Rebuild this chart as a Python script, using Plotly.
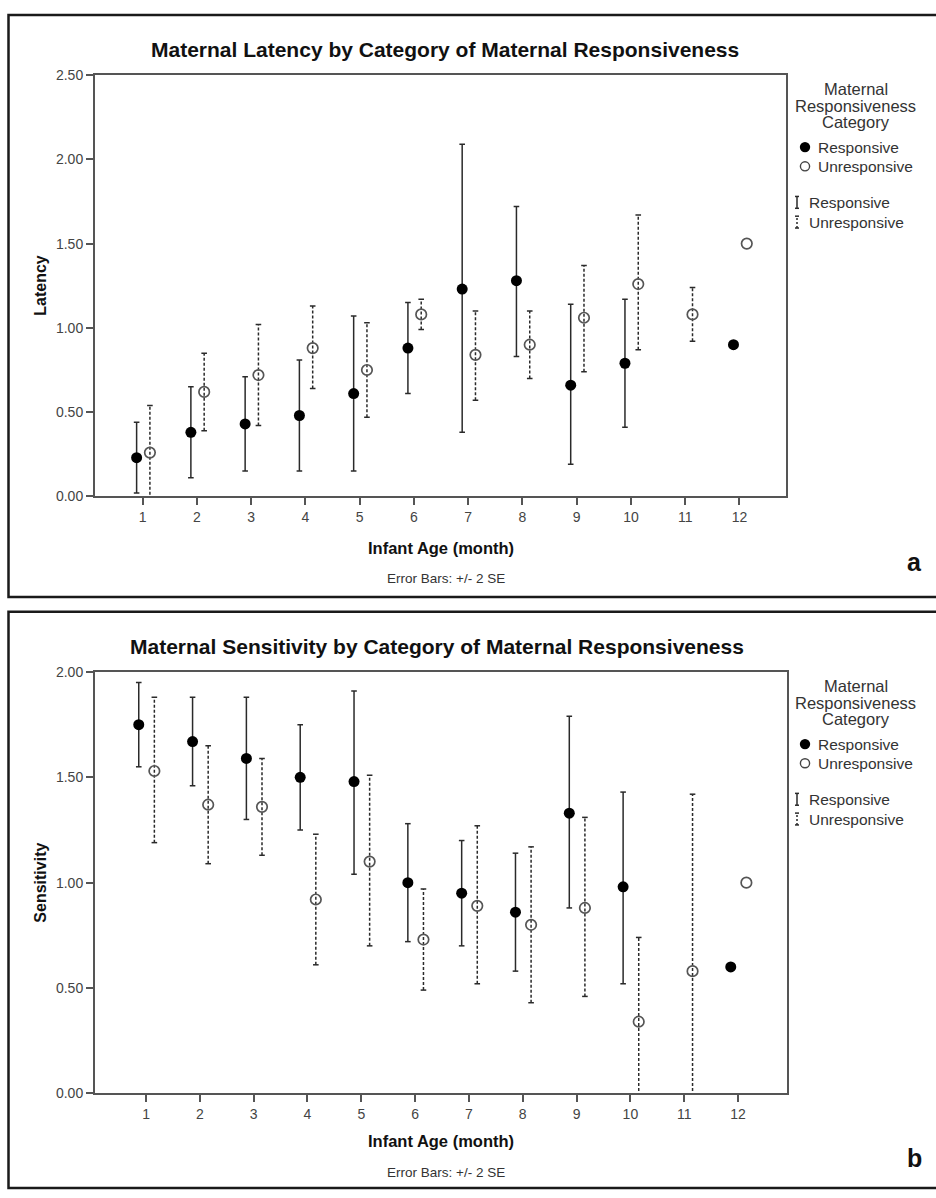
import plotly.graph_objects as go

W, H = 936, 1198

# ---- data: infant age in months, group means and +/- 2 SE bounds ----
months = [1, 2, 3, 4, 5, 6, 7, 8, 9, 10, 11, 12]

lat_resp_mean = [0.23, 0.38, 0.43, 0.48, 0.61, 0.88, 1.23, 1.28, 0.66, 0.79, None, 0.90]
lat_resp_lo = [0.02, 0.11, 0.15, 0.15, 0.15, 0.61, 0.38, 0.83, 0.19, 0.41, None, None]
lat_resp_hi = [0.44, 0.65, 0.71, 0.81, 1.07, 1.15, 2.09, 1.72, 1.14, 1.17, None, None]
lat_unr_mean = [0.26, 0.62, 0.72, 0.88, 0.75, 1.08, 0.84, 0.90, 1.06, 1.26, 1.08, 1.50]
lat_unr_lo = [-0.02, 0.39, 0.42, 0.64, 0.47, 0.99, 0.57, 0.70, 0.74, 0.87, 0.92, None]
lat_unr_hi = [0.54, 0.85, 1.02, 1.13, 1.03, 1.17, 1.10, 1.10, 1.37, 1.67, 1.24, None]

sens_resp_mean = [1.75, 1.67, 1.59, 1.50, 1.48, 1.00, 0.95, 0.86, 1.33, 0.98, None, 0.60]
sens_resp_lo = [1.55, 1.46, 1.30, 1.25, 1.04, 0.72, 0.70, 0.58, 0.88, 0.52, None, None]
sens_resp_hi = [1.95, 1.88, 1.88, 1.75, 1.91, 1.28, 1.20, 1.14, 1.79, 1.43, None, None]
sens_unr_mean = [1.53, 1.37, 1.36, 0.92, 1.10, 0.73, 0.89, 0.80, 0.88, 0.34, 0.58, 1.00]
sens_unr_lo = [1.19, 1.09, 1.13, 0.61, 0.70, 0.49, 0.52, 0.43, 0.46, -0.06, -0.25, None]
sens_unr_hi = [1.88, 1.65, 1.59, 1.23, 1.51, 0.97, 1.27, 1.17, 1.31, 0.74, 1.42, None]

lat_ticks = [0.0, 0.5, 1.0, 1.5, 2.0, 2.5]
sens_ticks = [0.0, 0.5, 1.0, 1.5, 2.0]

FONT = "Liberation Sans, Arial, sans-serif"
AXC = "#555555"
TXT = "#444444"
BAR = "#2a2a2a"


def px(x):
    return x / W


def py(y):
    return 1 - y / H


fig = go.Figure()


def add_group(xa, ya, mean, lo, hi, shift, dashed):
    xs = [m + shift for m in months]
    bx, by, cx, cy = [], [], [], []
    for x, l, h in zip(xs, lo, hi):
        if l is None or h is None:
            continue
        bx += [x, x, None]
        by += [l, h, None]
        cx += [x, x]
        cy += [l, h]
    dash = "3px,2px" if dashed else "solid"
    fig.add_trace(go.Scatter(x=bx, y=by, mode="lines", xaxis=xa, yaxis=ya,
                             line=dict(color=BAR, width=1.5, dash=dash),
                             hoverinfo="skip", showlegend=False))
    fig.add_trace(go.Scatter(x=cx, y=cy, mode="markers", xaxis=xa, yaxis=ya,
                             marker=dict(symbol="line-ew", size=4,
                                         line=dict(color=BAR, width=1.5)),
                             hoverinfo="skip", showlegend=False))
    mx = [x for x, m in zip(xs, mean) if m is not None]
    my = [m for m in mean if m is not None]
    if dashed:
        mk = dict(symbol="circle-open", size=10.5, color="#555555",
                  line=dict(color="#555555", width=1.7))
    else:
        mk = dict(symbol="circle", size=11, color="#000000", line=dict(width=0))
    fig.add_trace(go.Scatter(x=mx, y=my, mode="markers", xaxis=xa, yaxis=ya,
                             marker=mk, showlegend=False))


# panel a: latency
add_group("x", "y", lat_resp_mean, lat_resp_lo, lat_resp_hi, -0.11, False)
add_group("x", "y", lat_unr_mean, lat_unr_lo, lat_unr_hi, 0.135, True)
# panel b: sensitivity
add_group("x2", "y2", sens_resp_mean, sens_resp_lo, sens_resp_hi, -0.135, False)
add_group("x2", "y2", sens_unr_mean, sens_unr_lo, sens_unr_hi, 0.155, True)

axis_common = dict(showgrid=False, zeroline=False, showline=True, mirror=True,
                   linecolor=AXC, linewidth=2, ticks="outside", tickcolor=AXC,
                   tickwidth=1.5, ticklen=7, tickfont=dict(family=FONT, size=14, color=TXT))

fig.update_layout(
    width=W, height=H, margin=dict(l=0, r=0, t=0, b=0),
    paper_bgcolor="white", plot_bgcolor="white", showlegend=False,
    xaxis=dict(axis_common, domain=[px(95), px(786)], range=[0.123, 12.858],
               tickvals=months, anchor="y"),
    yaxis=dict(axis_common, domain=[py(495), py(68)], range=[0, 2.5],
               tickvals=lat_ticks, ticktext=[f"{v:.2f}" for v in lat_ticks], anchor="x"),
    xaxis2=dict(axis_common, domain=[px(95), px(787)], range=[0.052, 12.91],
                tickvals=months, anchor="y2"),
    yaxis2=dict(axis_common, domain=[py(1100), py(673)], range=[0, 2.0],
                tickvals=sens_ticks, ticktext=[f"{v:.2f}" for v in sens_ticks], anchor="x2"),
)

ann = []
shapes = []


def text(x, y, s, size, bold=False, color="#000000", xanchor="center", angle=0):
    ann.append(dict(x=px(x), y=py(y), xref="paper", yref="paper", text=(f"<b>{s}</b>" if bold else s),
                    showarrow=False, xanchor=xanchor, yanchor="middle", textangle=angle,
                    font=dict(family=FONT, size=size, color=color)))


# panel frames
for top, bottom in [(7, 597), (612, 1196)]:
    shapes.append(dict(type="rect", xref="paper", yref="paper", x0=px(8.5), x1=px(948),
                       y0=py(bottom), y1=py(top), line=dict(color="#1a1a1a", width=2.5)))

panels = [
    dict(title="Maternal Latency by Category of Maternal Responsiveness", tx=445, ty=42,
         ylab="Latency", ptop=68, pbot=495, letter="a", ly=562, xlab_y=547, eb_y=578),
    dict(title="Maternal Sensitivity by Category of Maternal Responsiveness", tx=436.5, ty=647,
         ylab="Sensitivity", ptop=673, pbot=1100, letter="b", ly=1166, xlab_y=1148, eb_y=1180),
]

for p in panels:
    text(p["tx"], p["ty"], p["title"], 21, bold=True, color="#111111")
    text(41, (p["ptop"] + p["pbot"]) / 2, p["ylab"], 16, bold=True, color="#111111", angle=-90)
    text(440.5, p["xlab_y"], "Infant Age (month)", 16.5, bold=True, color="#111111")
    text(446, p["eb_y"], "Error Bars: +/- 2 SE", 13.5, color="#333333")
    text(914, p["ly"], p["letter"], 25, bold=True, color="#111111")

    t = p["ptop"]
    # legend block
    text(855.5, t + 14.5, "Maternal", 16.5, color="#333333")
    text(855.5, t + 31, "Responsiveness", 16.5, color="#333333")
    text(855.5, t + 47.5, "Category", 16.5, color="#333333")
    text(816, t + 73.5, "Responsive", 15.5, color="#333333", xanchor="left")
    text(816, t + 93, "Unresponsive", 15.5, color="#333333", xanchor="left")
    text(807, t + 129.5, "Responsive", 15.5, color="#333333", xanchor="left")
    text(807, t + 149, "Unresponsive", 15.5, color="#333333", xanchor="left")

    r = 5.2
    shapes.append(dict(type="circle", xref="paper", yref="paper",
                       x0=px(805 - r), x1=px(805 + r), y0=py(t + 73 + r), y1=py(t + 73 - r),
                       fillcolor="#000000", line=dict(width=0)))
    r = 4.6
    shapes.append(dict(type="circle", xref="paper", yref="paper",
                       x0=px(805 - r), x1=px(805 + r), y0=py(t + 92.5 + r), y1=py(t + 92.5 - r),
                       fillcolor="white", line=dict(color="#444444", width=1.4)))
    for cy, dash in [(t + 129, "solid"), (t + 149, "2px,2px")]:
        shapes.append(dict(type="line", xref="paper", yref="paper", x0=px(797), x1=px(797),
                           y0=py(cy + 6), y1=py(cy - 6), line=dict(color=BAR, width=1.5, dash=dash)))
        for e in (cy - 6, cy + 6):
            shapes.append(dict(type="line", xref="paper", yref="paper", x0=px(795), x1=px(799),
                               y0=py(e), y1=py(e), line=dict(color=BAR, width=1.5)))

fig.update_layout(annotations=ann, shapes=shapes)
fig.write_html("out.html")
